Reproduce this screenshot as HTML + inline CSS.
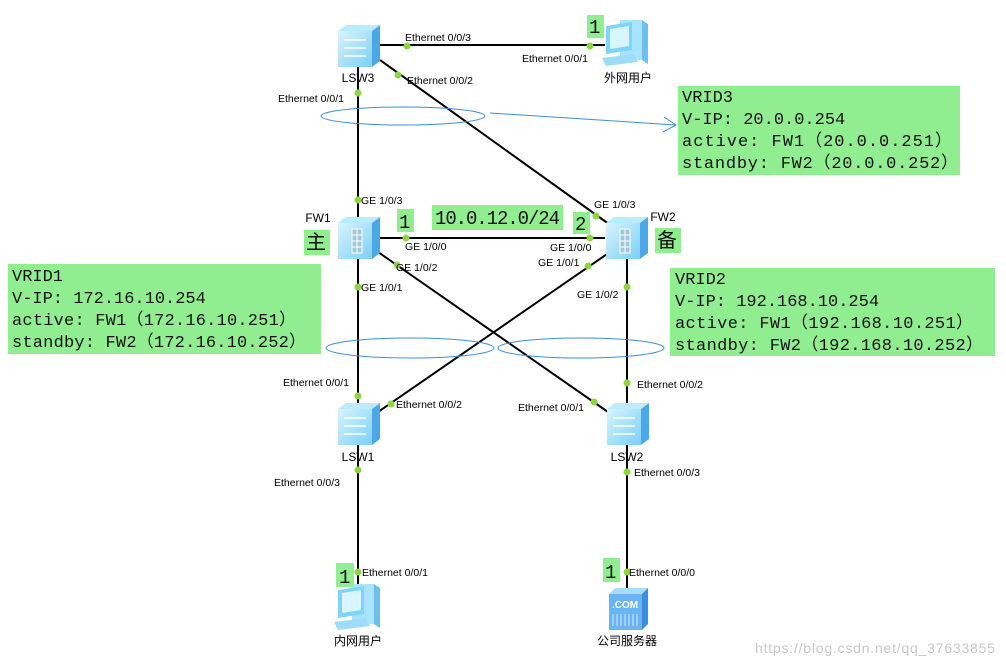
<!DOCTYPE html>
<html><head><meta charset="utf-8"><style>
html,body{margin:0;padding:0;background:#fff;width:1006px;height:667px;overflow:hidden}
svg{display:block}
.s{font-family:"Liberation Sans","Noto Sans CJK SC",sans-serif;font-size:10.5px;fill:#000}
.m{font-family:"Liberation Mono","Noto Sans CJK SC",monospace;font-size:17px;fill:#111}
.c{font-family:"Liberation Sans","Noto Sans CJK SC",sans-serif;font-size:12px;fill:#000}
</style></head><body>
<svg width="1006" height="667" viewBox="0 0 1006 667" xmlns="http://www.w3.org/2000/svg">
<defs>
<linearGradient id="sw" x1="0" y1="0" x2="1" y2="1"><stop offset="0" stop-color="#d8f4ff"/><stop offset="1" stop-color="#7ccff5"/></linearGradient>
<g id="switch">
 <polygon points="-20,-14 -12,-20 22,-20 14,-14" fill="#b8ecff"/>
 <polygon points="14,-14 22,-20 22,16 14,22" fill="#4aa8e8"/>
 <rect x="-20" y="-14" width="34" height="36" fill="url(#sw)"/>
 <path d="M-14,-5 h22 M-14,3 h22 M-14,11 h22" stroke="#fff" stroke-width="1.5"/>
</g>
<g id="fw">
 <polygon points="-20,-14 -12,-20 22,-20 14,-14" fill="#b8ecff"/>
 <polygon points="14,-14 22,-20 22,16 14,22" fill="#4aa8e8"/>
 <rect x="-20" y="-14" width="34" height="36" fill="url(#sw)"/>
 <rect x="-6" y="-8" width="10" height="24" fill="#9fc8d8" stroke="#fff"/>
 <path d="M-6,-2 h10 M-6,4 h10 M-6,10 h10 M-1,-8 v24" stroke="#fff"/>
</g>
<g id="pc">
 <polygon points="-8,-22 14,-22 14,18 -8,18" fill="#a8e4ff"/>
 <polygon points="14,-22 20,-18 20,22 14,18" fill="#6cc0ee"/>
 <polygon points="-22,-16 4,-20 4,8 -22,12" fill="#7fd4fb"/>
 <polygon points="-18,-13 1,-16 1,4 -18,7" fill="#d8f6ff"/>
 <polygon points="-26,16 6,12 10,20 -22,24" fill="#9ddcfa"/>
</g>
</defs>

<g stroke="#000" stroke-width="2" fill="none">
 <line x1="380" y1="45" x2="605" y2="45"/>
 <line x1="358" y1="65" x2="358" y2="220"/>
 <line x1="380" y1="60" x2="620" y2="232"/>
 <line x1="380" y1="238" x2="605" y2="238"/>
 <line x1="358" y1="258" x2="358" y2="405"/>
 <line x1="378" y1="252" x2="608" y2="412"/>
 <line x1="610" y1="252" x2="378" y2="412"/>
 <line x1="627" y1="258" x2="627" y2="405"/>
 <line x1="358" y1="445" x2="358" y2="590"/>
 <line x1="627" y1="445" x2="627" y2="592"/>
</g>
<g stroke="#3a8fe0" stroke-width="1" fill="none">
 <ellipse cx="403" cy="116" rx="82" ry="9"/>
 <ellipse cx="410" cy="348" rx="84" ry="10"/>
 <ellipse cx="581" cy="348" rx="83" ry="10"/>
 <line x1="490" y1="113" x2="676" y2="125"/>
 <path d="M664,117 L676,125 L663,132"/>
</g>
<g fill="#8dd640">
 <circle cx="407" cy="46" r="3.5"/><circle cx="590" cy="46" r="3.5"/>
 <circle cx="398" cy="75" r="3.5"/><circle cx="596" cy="216" r="3.5"/>
 <circle cx="358" cy="93" r="3.5"/><circle cx="358" cy="200" r="3.5"/>
 <circle cx="406" cy="238" r="3.5"/><circle cx="590" cy="238" r="3.5"/>
 <circle cx="397" cy="265" r="3.5"/><circle cx="588" cy="266" r="3.5"/>
 <circle cx="358" cy="287" r="3.5"/><circle cx="627" cy="287" r="3.5"/>
 <circle cx="358" cy="396" r="3.5"/><circle cx="391" cy="404" r="3.5"/>
 <circle cx="594" cy="402" r="3.5"/><circle cx="627" cy="383" r="3.5"/>
 <circle cx="358" cy="470" r="3.5"/><circle cx="627" cy="472" r="3.5"/>
 <circle cx="358" cy="572" r="3.5"/><circle cx="627" cy="572" r="3.5"/>
</g>
<use href="#switch" x="358" y="45"/>
<use href="#fw" x="358" y="237"/>
<use href="#fw" x="626" y="237"/>
<use href="#switch" x="358" y="423"/>
<use href="#switch" x="627" y="423"/>
<use href="#pc" x="628" y="42"/>
<use href="#pc" x="360" y="606"/>
<g>
 <polygon points="609,594 615,588 648,588 642,594" fill="#a8dcff"/>
 <polygon points="642,594 648,588 648,624 642,630" fill="#3d8ee0"/>
 <rect x="609" y="594" width="33" height="36" fill="#6ab4f4"/>
 <text x="625" y="608" text-anchor="middle" font-family="Liberation Sans" font-weight="bold" font-size="10" fill="#fff">.COM</text>
 <path d="M613,614 v12 M617,614 v12 M621,614 v12 M625,614 v12 M629,614 v12 M633,614 v12 M637,614 v12" stroke="#cfe8ff"/>
</g>

<g class="c" text-anchor="middle">
 <text x="358" y="82">LSW3</text>
 <text x="628" y="82">外网用户</text>
 <text x="318" y="222">FW1</text>
 <text x="663" y="221">FW2</text>
 <text x="358" y="461">LSW1</text>
 <text x="627" y="461">LSW2</text>
 <text x="358" y="645">内网用户</text>
 <text x="627" y="645">公司服务器</text>
</g>
<g class="s">
 <text x="405" y="41">Ethernet 0/0/3</text>
 <text x="522" y="62">Ethernet 0/0/1</text>
 <text x="407" y="84">Ethernet 0/0/2</text>
 <text x="278" y="102">Ethernet 0/0/1</text>
 <text x="361" y="204">GE 1/0/3</text>
 <text x="594" y="208">GE 1/0/3</text>
 <text x="405" y="250">GE 1/0/0</text>
 <text x="550" y="251">GE 1/0/0</text>
 <text x="396" y="271">GE 1/0/2</text>
 <text x="538" y="266">GE 1/0/1</text>
 <text x="361" y="291">GE 1/0/1</text>
 <text x="577" y="298">GE 1/0/2</text>
 <text x="283" y="386">Ethernet 0/0/1</text>
 <text x="396" y="408">Ethernet 0/0/2</text>
 <text x="518" y="411">Ethernet 0/0/1</text>
 <text x="637" y="388">Ethernet 0/0/2</text>
 <text x="274" y="486">Ethernet 0/0/3</text>
 <text x="634" y="476">Ethernet 0/0/3</text>
 <text x="362" y="576">Ethernet 0/0/1</text>
 <text x="629" y="576">Ethernet 0/0/0</text>
</g>
<g fill="#90ee90">
 <rect x="587" y="15" width="17" height="23"/>
 <rect x="397" y="209" width="17" height="23"/>
 <rect x="573" y="212" width="17" height="22"/>
 <rect x="432" y="205" width="131" height="25"/>
 <rect x="304" y="230" width="26" height="25"/>
 <rect x="655" y="228" width="26" height="25"/>
 <rect x="336" y="563" width="18" height="24"/>
 <rect x="603" y="558" width="17" height="24"/>
 <rect x="678" y="86" width="282" height="89"/>
 <rect x="8" y="264" width="313" height="90"/>
 <rect x="670" y="268" width="325" height="88"/>
</g>
<g class="m">
 <text x="589" y="33" font-size="19">1</text>
 <text x="399" y="228" font-size="19">1</text>
 <text x="575" y="230" font-size="19">2</text>
 <text x="339" y="583" font-size="19">1</text>
 <text x="605" y="578" font-size="19">1</text>
 <text x="435" y="224" font-size="19" textLength="125">10.0.12.0/24</text>
 <text x="306" y="249" font-size="20" font-family="Noto Sans CJK SC,sans-serif">主</text>
 <text x="657" y="247" font-size="20" font-family="Noto Sans CJK SC,sans-serif">备</text>
 <text x="682" y="102">VRID3</text>
 <text x="682" y="124">V-IP: 20.0.0.254</text>
 <text x="682" y="146" textLength="270">active: FW1（20.0.0.251）</text>
 <text x="682" y="168" textLength="276">standby: FW2（20.0.0.252）</text>
 <text x="12" y="281">VRID1</text>
 <text x="12" y="303">V-IP: 172.16.10.254</text>
 <text x="12" y="325" textLength="284">active: FW1（172.16.10.251）</text>
 <text x="12" y="347" textLength="294">standby: FW2（172.16.10.252）</text>
 <text x="675" y="284">VRID2</text>
 <text x="675" y="306">V-IP: 192.168.10.254</text>
 <text x="675" y="328" textLength="298">active: FW1（192.168.10.251）</text>
 <text x="675" y="350" textLength="308">standby: FW2（192.168.10.252）</text>
</g>
<text x="755" y="653" font-family="Liberation Sans" font-size="14" textLength="240" fill="#c8c8c8">https://blog.csdn.net/qq_37633855</text>
</svg>
</body></html>
